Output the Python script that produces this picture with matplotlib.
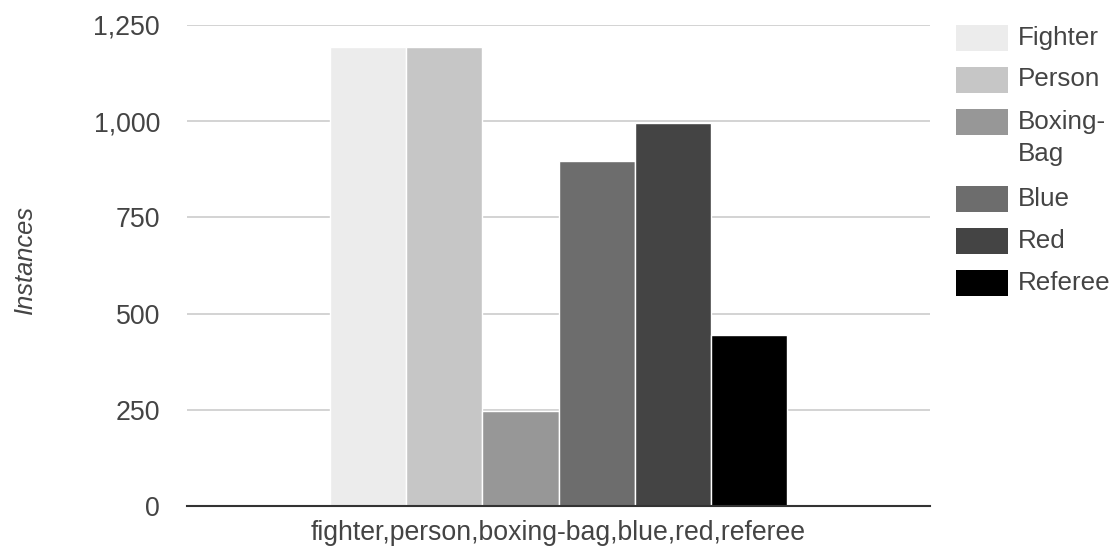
import matplotlib
matplotlib.use("Agg")
import matplotlib.pyplot as plt
from matplotlib.patches import Rectangle
import numpy as np

plt.rcParams['font.family'] = ['Liberation Sans', 'DejaVu Sans']

category = "fighter,person,boxing-bag,blue,red,referee"
series_names = ["Fighter", "Person", "Boxing-Bag", "Blue", "Red", "Referee"]
series_values = [1192, 1192, 247, 897, 995, 444]
series_colors = ["#ececec", "#c6c6c6", "#979797", "#6d6d6d", "#444444", "#000000"]
yticks = [0, 250, 500, 750, 1000, 1250]
ylabel = "Instances"

W, H = 1116, 550
fig = plt.figure(figsize=(W / 100, H / 100), dpi=100)
ax = fig.add_axes([187 / W, 1 - 506 / H, (930 - 187) / W, (506 - 25) / H])

n = len(series_names)
bw = 0.1027
for i, (name, val, col) in enumerate(zip(series_names, series_values, series_colors)):
    ax.bar(0 + (i - (n - 1) / 2) * bw, val, width=bw, color=col,
           edgecolor="white", linewidth=1.0, zorder=3)

ax.set_xlim(-0.5, 0.5)
ax.set_ylim(0, 1250)
ax.set_yticks(yticks)
ax.set_yticklabels([f"{t:,}" for t in yticks], fontsize=19.3)
ax.set_xticks([0])
ax.set_xticklabels([category], fontsize=19.2)
ax.tick_params(axis='both', length=0, colors="#444444")
ax.tick_params(axis='y', pad=19.5)
ax.tick_params(axis='x', pad=10)
ax.grid(axis='y', color="#cccccc", linewidth=1.2, zorder=0)
for s in ["top", "right", "left"]:
    ax.spines[s].set_visible(False)
ax.spines["bottom"].set_color("#333333")
ax.spines["bottom"].set_linewidth(1.5)
ax.spines["bottom"].set_zorder(4)

ax.set_ylabel(ylabel, fontsize=18.4, style="italic", color="#444444")
ax.yaxis.set_label_coords((37 - 187) / (930 - 187), 0.5125)

# Legend (manual, Google-charts style)
y = 25
for name, col in zip(series_names, series_colors):
    rect = Rectangle((956 / W, 1 - (y + 26) / H), 52 / W, 26 / H,
                     transform=fig.transFigure, facecolor=col, edgecolor="none")
    fig.add_artist(rect)
    label = name.replace("-", "-\n")
    fig.text(1018 / W, 1 - (y + 0.5) / H, label, fontsize=18.7, color="#444444",
             va="top", ha="left", linespacing=1.45)
    y += 42 + 35 * name.count("-")

fig.savefig("out.png", dpi=100)
